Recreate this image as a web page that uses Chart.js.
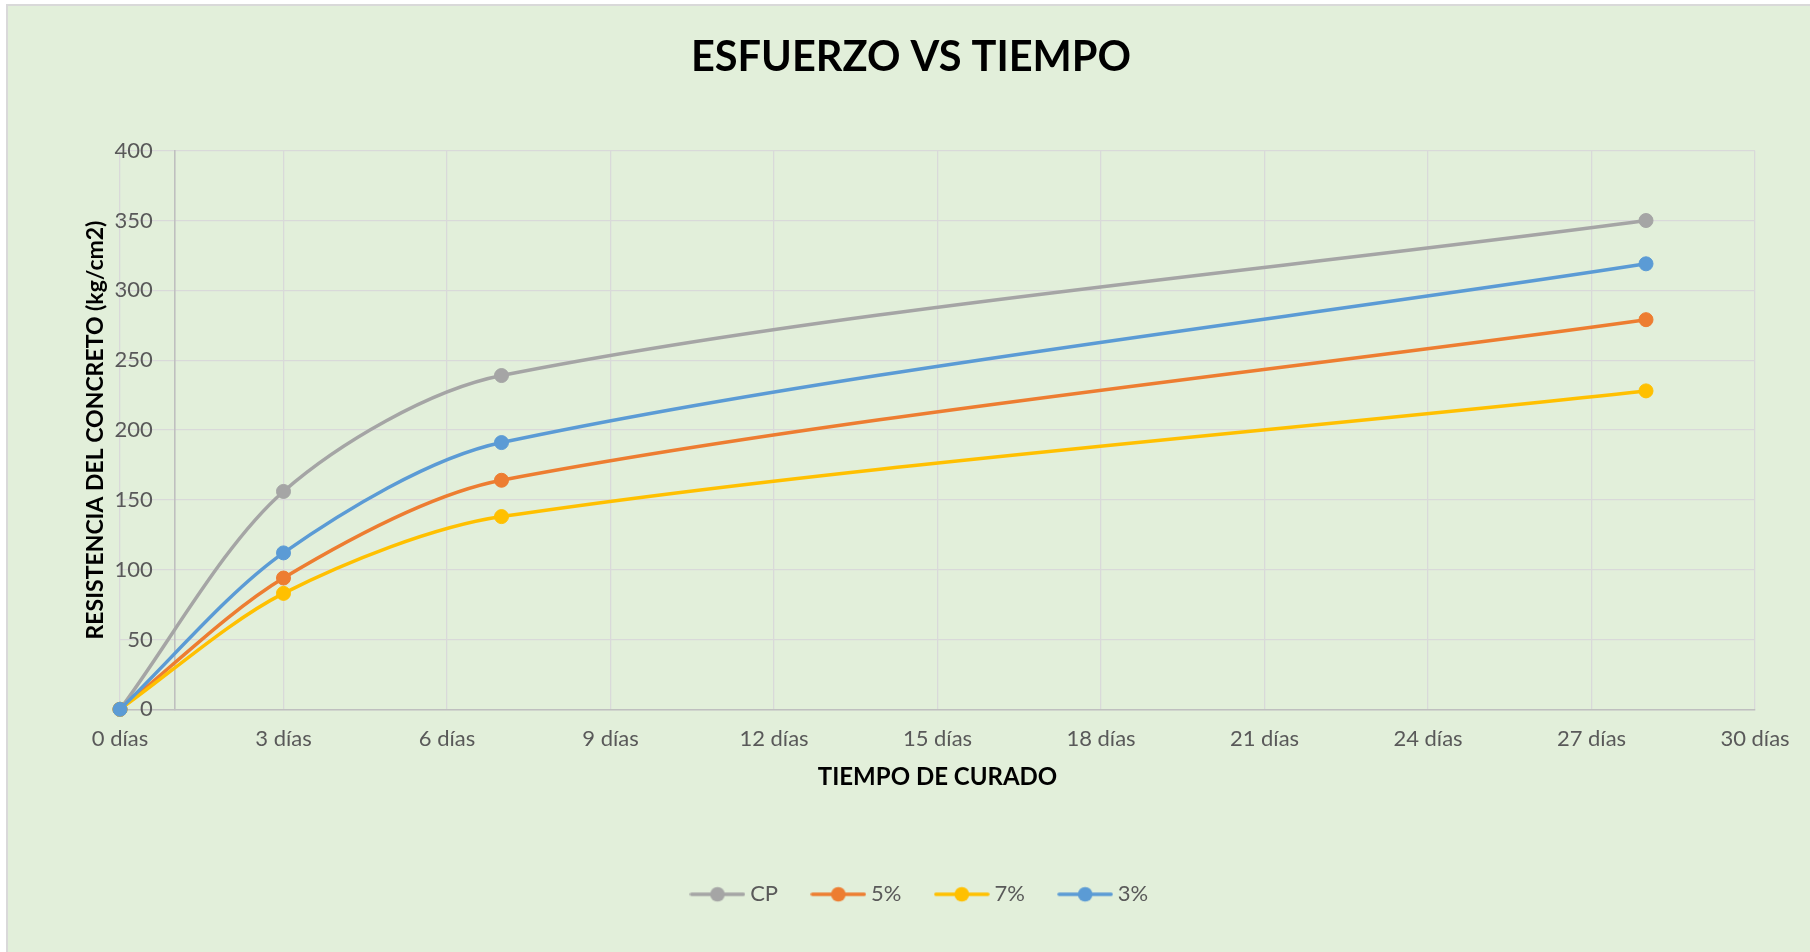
<!DOCTYPE html>
<html>
<head>
<meta charset="utf-8">
<script src="https://cdn.jsdelivr.net/npm/chart.js@4.4.1/dist/chart.umd.min.js"></script>
<style>
  html, body { margin: 0; padding: 0; background: #ffffff; }
  canvas { display: block; }
</style>
</head>
<body>
<canvas id="c" width="1810" height="952" style="width:1810px;height:952px"></canvas>
<script>
// ---- data ----
const days = [0, 3, 7, 28];
const seriesNames = ['CP', '5%', '7%', '3%'];
const cpValues = [0, 156, 239, 350];
const p5Values = [0, 94, 164, 279];
const p7Values = [0, 83, 138, 228];
const p3Values = [0, 112, 191, 319];
const xTickLabels = ['0 días', '3 días', '6 días', '9 días', '12 días', '15 días', '18 días', '21 días', '24 días', '27 días', '30 días'];
const yTickValues = [0, 50, 100, 150, 200, 250, 300, 350, 400];
const chartTitle = 'ESFUERZO VS TIEMPO';
const xTitle = 'TIEMPO DE CURADO';
const yTitle = 'RESISTENCIA DEL CONCRETO (kg/cm2)';

const colors = ['#A5A5A5', '#ED7D31', '#FFC000', '#5B9BD5'];
const seriesValues = [cpValues, p5Values, p7Values, p3Values];

function legendIcon(color) {
  const c = document.createElement('canvas');
  c.width = 56; c.height = 18;
  const g = c.getContext('2d');
  g.strokeStyle = color; g.lineWidth = 3.5; g.lineCap = 'round';
  g.beginPath(); g.moveTo(2, 9); g.lineTo(54, 9); g.stroke();
  g.fillStyle = color;
  g.beginPath(); g.arc(28, 9, 7.3, 0, Math.PI * 2); g.fill();
  return c;
}
const icons = colors.map(legendIcon);

const datasets = seriesNames.map((name, i) => ({
  label: name,
  data: days.map((d, j) => ({x: d, y: seriesValues[i][j]})),
  borderColor: colors[i],
  backgroundColor: colors[i],
  pointBackgroundColor: colors[i],
  pointBorderColor: colors[i],
  pointBorderWidth: 1,
  pointRadius: 7,
  pointStyle: 'circle',
  borderWidth: 3.5,
  tension: 0.3,
  fill: false,
  clip: false,
  order: 4 - i
}));

const bgPlugin = {
  id: 'bg',
  beforeDraw(chart) {
    const ctx = chart.ctx;
    ctx.save();
    ctx.fillStyle = '#ffffff';
    ctx.fillRect(0, 0, chart.width, chart.height);
    ctx.fillStyle = '#E2EFDA';
    ctx.fillRect(6, 4, chart.width, chart.height);
    ctx.strokeStyle = '#D9D9D9';
    ctx.lineWidth = 2;
    ctx.strokeRect(7, 5, chart.width + 20, chart.height + 20);
    ctx.restore();
  }
};

// small horizontal nudge of the legend block to match the reference centring
const legendShift = {
  id: 'legendShift',
  afterLayout(chart) {
    if (chart.legend) { chart.legend.left += 11; chart.legend.right += 11; }
  }
};

const FONT = 'Lato, "Open Sans", sans-serif';
const tickFont = { family: FONT, size: 22 };

new Chart(document.getElementById('c'), {
  type: 'line',
  data: { datasets },
  plugins: [bgPlugin, legendShift],
  options: {
    responsive: false,
    animation: false,
    devicePixelRatio: 1,
    layout: { padding: { left: 12, right: 0, top: 0, bottom: 36.7 } },
    plugins: {
      tooltip: { enabled: false },
      title: {
        display: true,
        text: chartTitle,
        color: '#000000',
        font: { family: FONT, size: 41.5, weight: 'bold' },
        padding: { top: 33, bottom: 67.9 }
      },
      legend: {
        display: true,
        position: 'bottom',
        labels: {
          usePointStyle: true,
          pointStyleWidth: 43.4,
          padding: 38.6,
          color: '#595959',
          font: tickFont,
          sort: (a, b) => a.datasetIndex - b.datasetIndex,
          generateLabels: (chart) => Chart.defaults.plugins.legend.labels.generateLabels(chart)
            .map(l => Object.assign(l, { pointStyle: icons[l.datasetIndex] }))
        }
      }
    },
    scales: {
      x: {
        type: 'linear',
        position: 'bottom',
        min: 0, max: 30,
        afterBuildTicks: (s) => { s.ticks = xTickLabels.map((t, i) => ({ value: i * 3 })); },
        ticks: {
          color: '#595959',
          font: tickFont,
          padding: 0,
          maxRotation: 0,
          autoSkip: false,
          callback: (v, i) => xTickLabels[i]
        },
        grid: { color: '#D9D9D9', lineWidth: 1.3, drawTicks: true, tickLength: 16.7, tickColor: 'rgba(0,0,0,0)' },
        border: { display: true, color: '#BFBFBF', width: 1.6 },
        title: {
          display: true,
          text: xTitle,
          color: '#000000',
          font: { family: FONT, size: 24, weight: 'bold' },
          padding: { top: 10.8, bottom: 52.7 }
        }
      },
      y: {
        type: 'linear',
        position: { x: 1 },
        min: 0, max: 400,
        afterBuildTicks: (s) => { s.ticks = yTickValues.map(v => ({ value: v })); },
        ticks: { display: false },
        grid: { color: '#D9D9D9', lineWidth: 1.3, drawTicks: false },
        border: { display: true, color: '#BFBFBF', width: 1.6 }
      },
      yLabels: {
        type: 'linear',
        position: { x: 0.6 },
        min: 0, max: 400,
        afterBuildTicks: (s) => { s.ticks = yTickValues.map(v => ({ value: v })); },
        ticks: { color: '#595959', font: tickFont, padding: 0 },
        grid: { display: false, drawTicks: false },
        border: { display: false }
      },
      yTitle: {
        type: 'linear',
        position: 'left',
        display: true,
        ticks: { display: false },
        grid: { display: false, drawTicks: false },
        border: { display: false },
        title: {
          display: true,
          text: yTitle,
          color: '#000000',
          font: { family: FONT, size: 23, weight: 'bold' },
          padding: { top: 69.4, bottom: 11.0 }
        }
      },
      yRight: {
        type: 'linear',
        position: 'right',
        display: true,
        ticks: { display: false },
        grid: { display: false, drawTicks: false },
        border: { display: false },
        afterFit: (s) => { s.width = 55; }
      }
    }
  }
});
</script>
</body>
</html>
